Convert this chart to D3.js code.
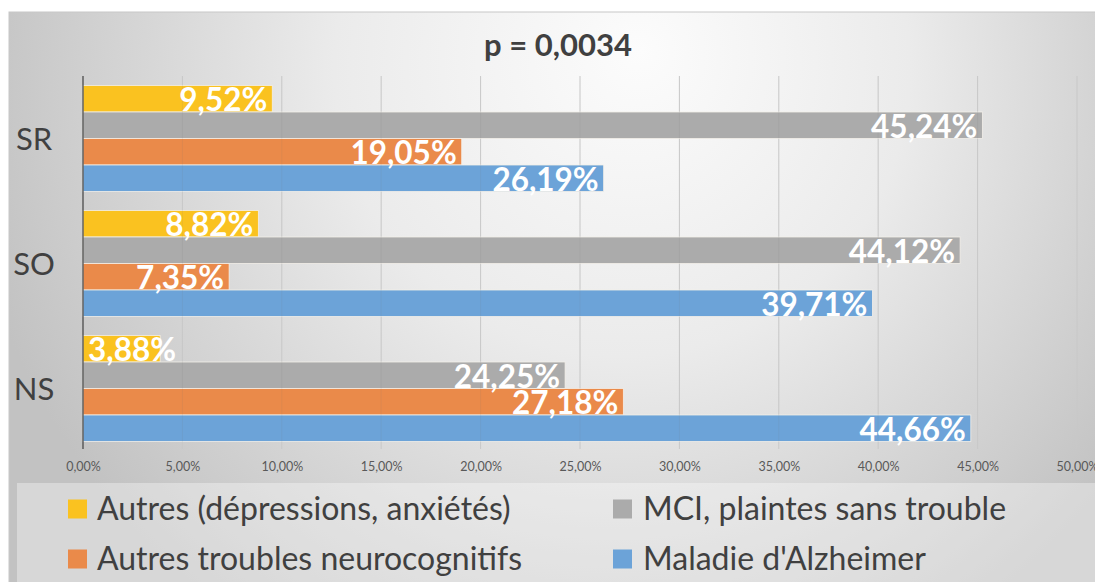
<!DOCTYPE html>
<html><head><meta charset="utf-8">
<script src="https://cdn.jsdelivr.net/npm/d3@7"></script>
<style>html,body{margin:0;padding:0;background:#fff;overflow:hidden}</style>
</head><body>
<svg id="c" width="1095" height="582"></svg>
<script>
const categories = ["SR", "SO", "NS"];
const seriesNames = ["Autres (dépressions, anxiétés)", "MCI, plaintes sans trouble", "Autres troubles neurocognitifs", "Maladie d'Alzheimer"];
const autres = [9.52, 8.82, 3.88];
const mci = [45.24, 44.12, 24.25];
const autresTroubles = [19.05, 7.35, 27.18];
const alzheimer = [26.19, 39.71, 44.66];
const tickValues = [0, 5, 10, 15, 20, 25, 30, 35, 40, 45, 50];
const title = "p = 0,0034";
const colors = ["#FAC220", "#ABABAB", "#EA8A4A", "#6CA3D8"];

const seriesValues = [autres, mci, autresTroubles, alzheimer];
const fmt = v => v.toFixed(2).replace(".", ",") + "%";
const svg = d3.select("#c");
const FONT = "Lato, 'Open Sans', sans-serif";

// background
const defs = svg.append("defs");
const rg = defs.append("radialGradient").attr("id", "bg").attr("gradientUnits", "userSpaceOnUse")
  .attr("cx", 600).attr("cy", 90).attr("r", 640).attr("fx", 640).attr("fy", 50);
rg.append("stop").attr("offset", 0).attr("stop-color", "#fcfcfc");
rg.append("stop").attr("offset", 0.45).attr("stop-color", "#ebebeb");
rg.append("stop").attr("offset", 1).attr("stop-color", "#c2c2c2");
svg.append("rect").attr("x", 9).attr("y", 12).attr("width", 1100).attr("height", 580)
  .attr("fill", "url(#bg)").attr("stroke", "#c8c8c8").attr("stroke-width", 1);

const x = d3.scaleLinear().domain([0, 50]).range([83, 1077]);
const y = d3.scaleBand().domain(categories).range([76, 451]).paddingInner(0.152).paddingOuter(0.076);
const ySub = d3.scaleBand().domain(d3.range(seriesNames.length)).range([0, y.bandwidth()]).padding(0);

// title
svg.append("text").attr("x", 558).attr("y", 56).attr("text-anchor", "middle")
  .attr("font-family", FONT).attr("font-weight", "bold").attr("font-size", 31).attr("fill", "#404040").text(title);

// gridlines under
const grid = svg.append("g");
grid.selectAll("line").data(tickValues.slice(1)).join("line")
  .attr("x1", d => x(d)).attr("x2", d => x(d)).attr("y1", 76).attr("y2", 449)
  .attr("stroke", "#d2d2d2").attr("stroke-width", 1);

// bars
const gBars = svg.append("g");
categories.forEach((cat, ci) => {
  seriesValues.forEach((vals, si) => {
    const v = vals[ci];
    const y0 = y(cat) + ySub(si);
    const h = ySub.bandwidth();
    gBars.append("rect").attr("x", x(0)).attr("y", y0).attr("width", x(v) - x(0)).attr("height", h)
      .attr("fill", colors[si]).attr("stroke", "#f3efe9").attr("stroke-width", 0.8);
  });
});

// gridlines faint over bars
const grid2 = svg.append("g");
grid2.selectAll("line").data(tickValues.slice(1)).join("line")
  .attr("x1", d => x(d)).attr("x2", d => x(d)).attr("y1", 76).attr("y2", 449)
  .attr("stroke", "#777").attr("stroke-opacity", 0.1).attr("stroke-width", 1);

// labels
categories.forEach((cat, ci) => {
  seriesValues.forEach((vals, si) => {
    const v = vals[ci];
    const y0 = y(cat) + ySub(si);
    const h = ySub.bandwidth();
    const t = svg.append("text").attr("y", y0 + h - 1)
      .attr("font-family", FONT).attr("font-weight", "bold").attr("font-size", 31.5).attr("fill", "#fff")
      .text(fmt(v));
    const w = t.node().getComputedTextLength();
    const bw = x(v) - x(0);
    if (w + 10 > bw) t.attr("x", x(0) + 5).attr("text-anchor", "start");
    else t.attr("x", x(v) - 5).attr("text-anchor", "end");
  });
});

// axis line
svg.append("line").attr("x1", x(0)).attr("x2", x(0)).attr("y1", 76).attr("y2", 449)
  .attr("stroke", "#404040").attr("stroke-width", 1.2);

// category labels
svg.append("g").selectAll("text").data(categories).join("text")
  .attr("x", 34).attr("y", d => y(d) + y.bandwidth() / 2 + 11).attr("text-anchor", "middle")
  .attr("font-family", FONT).attr("font-size", 31).attr("fill", "#404040").text(d => d);

// x tick labels via axis
const axis = d3.axisBottom(x).tickValues(tickValues).tickSize(0).tickPadding(0)
  .tickFormat(d => d.toFixed(2).replace(".", ",") + "%");
const ga = svg.append("g").attr("transform", "translate(0,462)").call(axis);
ga.select(".domain").remove();
ga.selectAll("text").attr("font-family", FONT).attr("font-size", 12.5).attr("fill", "#595959");

// legend box
svg.append("rect").attr("x", 17).attr("y", 483).attr("width", 1090).attr("height", 110)
  .attr("fill", "#ffffff").attr("fill-opacity", 0.35);

const legendPos = [
  {sx: 68, tx: 97, cy: 509},
  {sx: 613, tx: 643, cy: 509},
  {sx: 68, tx: 97, cy: 559},
  {sx: 613, tx: 643, cy: 559}
];
const lg = svg.append("g");
seriesNames.forEach((name, i) => {
  const p = legendPos[i];
  lg.append("rect").attr("x", p.sx).attr("y", p.cy - 9.5).attr("width", 19).attr("height", 19).attr("fill", colors[i]);
  lg.append("text").attr("x", p.tx).attr("y", p.cy + 11)
    .attr("font-family", FONT).attr("font-size", 32).attr("fill", "#404040").text(name);
});
</script>
</body></html>
